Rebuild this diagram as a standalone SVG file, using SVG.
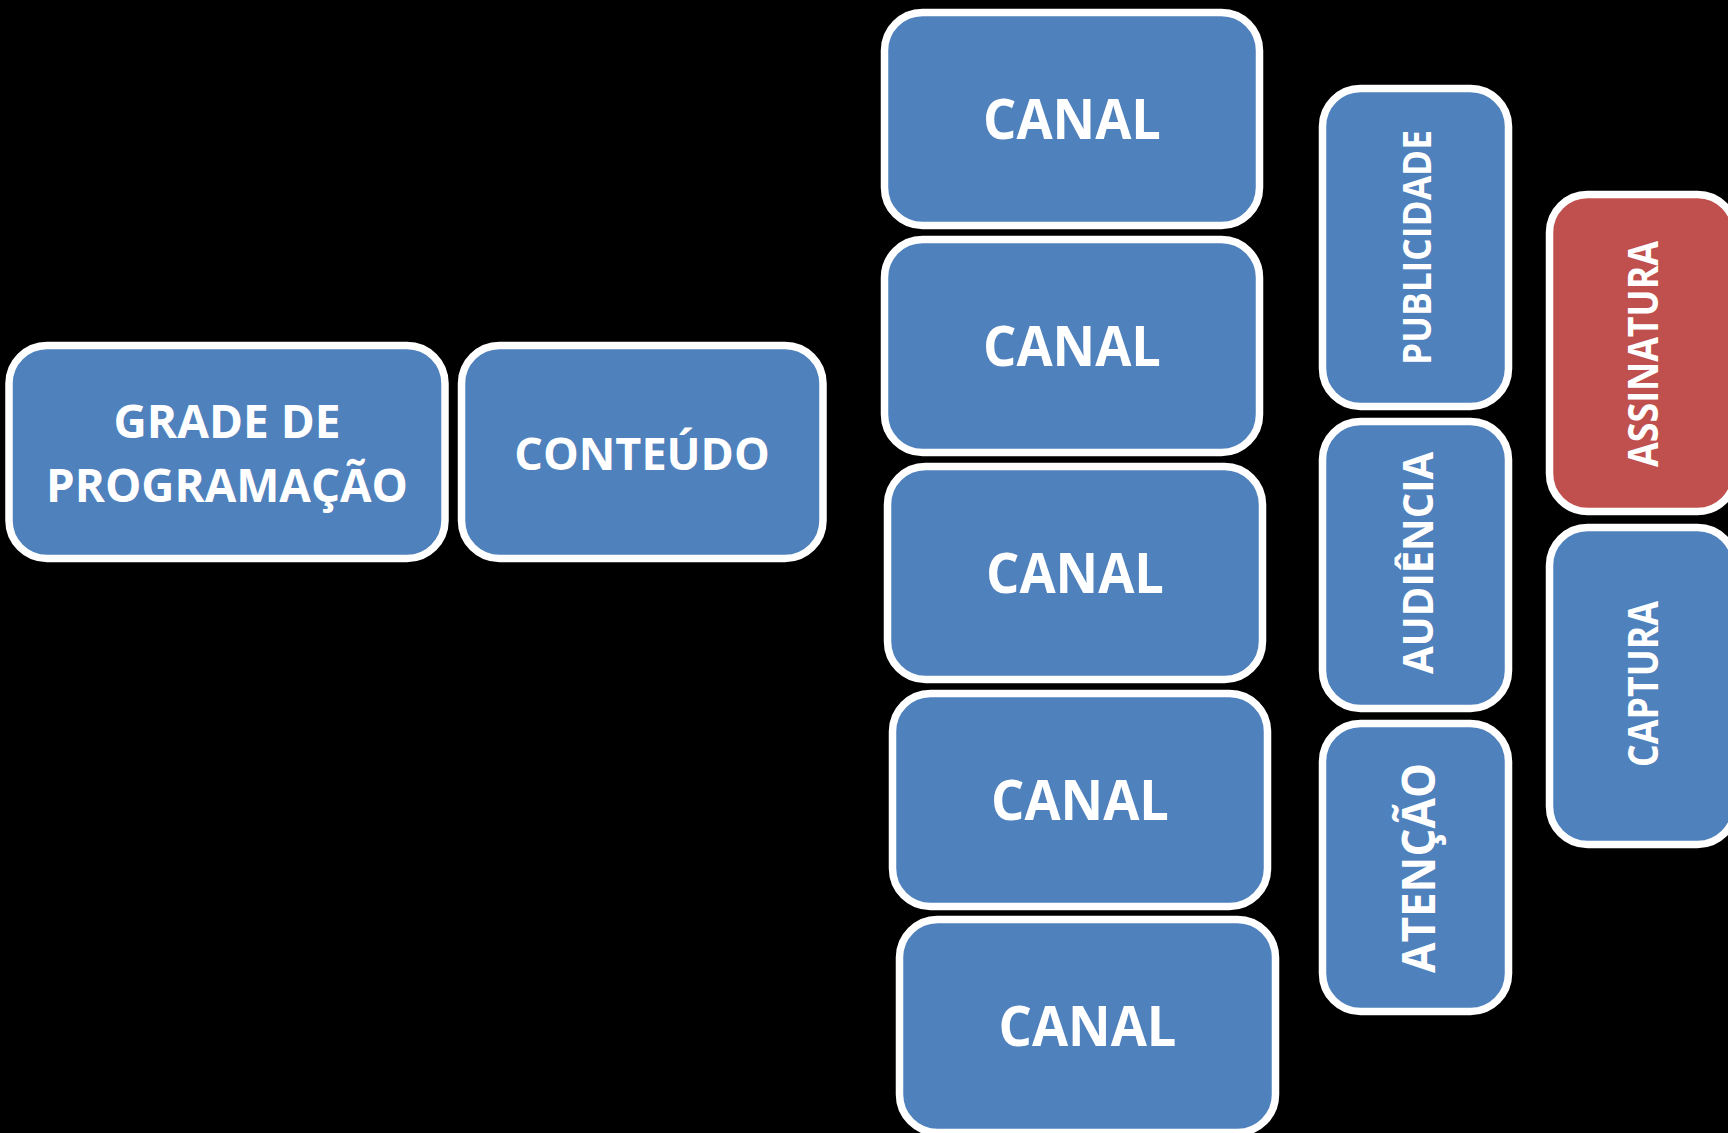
<svg xmlns="http://www.w3.org/2000/svg" width="1728" height="1133" viewBox="0 0 1728 1133">
<style>
.box{fill:#4F81BD;stroke:#FFFFFF;stroke-width:7.5}
.red{fill:#C0504D;stroke:#FFFFFF;stroke-width:7.5}
.t{font-family:"Open Sans","Noto Sans","DejaVu Sans",sans-serif;font-weight:700;fill:#FFFFFF;text-anchor:middle}
</style>
<rect x="0" y="0" width="1728" height="1133" fill="#000000"/>
<g id="connectors"></g>
<g id="grade">
<rect class="box" x="9" y="345.5" width="436" height="213" rx="38"/>
<text class="t" x="227" y="438" font-size="46">GRADE DE</text>
<text class="t" x="227" y="502" font-size="46" textLength="362" lengthAdjust="spacingAndGlyphs">PROGRAMAÇÃO</text>
</g>
<g id="conteudo">
<rect class="box" x="461.5" y="345.5" width="361.5" height="213" rx="38"/>
<text class="t" x="642" y="470" font-size="45">CONTEÚDO</text>
</g>
<g id="canal1">
<rect class="box" x="884.5" y="12.5" width="375" height="213" rx="38"/>
<text class="t" x="1072" y="139" font-size="55" textLength="178" lengthAdjust="spacingAndGlyphs">CANAL</text>
</g>
<g id="canal2">
<rect class="box" x="884.5" y="239.5" width="375" height="213" rx="38"/>
<text class="t" x="1072" y="366" font-size="55" textLength="178" lengthAdjust="spacingAndGlyphs">CANAL</text>
</g>
<g id="canal3">
<rect class="box" x="887.5" y="466.5" width="375" height="213" rx="38"/>
<text class="t" x="1075" y="593" font-size="55" textLength="178" lengthAdjust="spacingAndGlyphs">CANAL</text>
</g>
<g id="canal4">
<rect class="box" x="892.5" y="693.5" width="375" height="213" rx="38"/>
<text class="t" x="1080" y="820" font-size="55" textLength="178" lengthAdjust="spacingAndGlyphs">CANAL</text>
</g>
<g id="canal5">
<rect class="box" x="899.5" y="919.5" width="376" height="213" rx="38"/>
<text class="t" x="1087.5" y="1046" font-size="55" textLength="178" lengthAdjust="spacingAndGlyphs">CANAL</text>
</g>
<g id="publicidade">
<rect class="box" x="1322.5" y="88.5" width="186" height="318" rx="38"/>
<text class="t" transform="translate(1416.5,247.5) rotate(-90)" y="14" font-size="39" textLength="235" lengthAdjust="spacingAndGlyphs">PUBLICIDADE</text>
</g>
<g id="audiencia">
<rect class="box" x="1322.5" y="421.5" width="186" height="287" rx="38"/>
<text class="t" transform="translate(1417.5,563) rotate(-90)" y="15" font-size="42" textLength="222" lengthAdjust="spacingAndGlyphs">AUDIÊNCIA</text>
</g>
<g id="atencao">
<rect class="box" x="1322.5" y="723.5" width="186" height="288" rx="38"/>
<text class="t" transform="translate(1418,868) rotate(-90)" y="16.5" font-size="46" textLength="210" lengthAdjust="spacingAndGlyphs">ATENÇÃO</text>
</g>
<g id="assinatura">
<rect class="red" x="1549.5" y="194.5" width="186" height="317" rx="38"/>
<text class="t" transform="translate(1643,354) rotate(-90)" y="14.5" font-size="41" textLength="226" lengthAdjust="spacingAndGlyphs">ASSINATURA</text>
</g>
<g id="captura">
<rect class="box" x="1549.5" y="527.5" width="186" height="317" rx="38"/>
<text class="t" transform="translate(1643,684) rotate(-90)" y="14.5" font-size="41" textLength="166" lengthAdjust="spacingAndGlyphs">CAPTURA</text>
</g>
</svg>
